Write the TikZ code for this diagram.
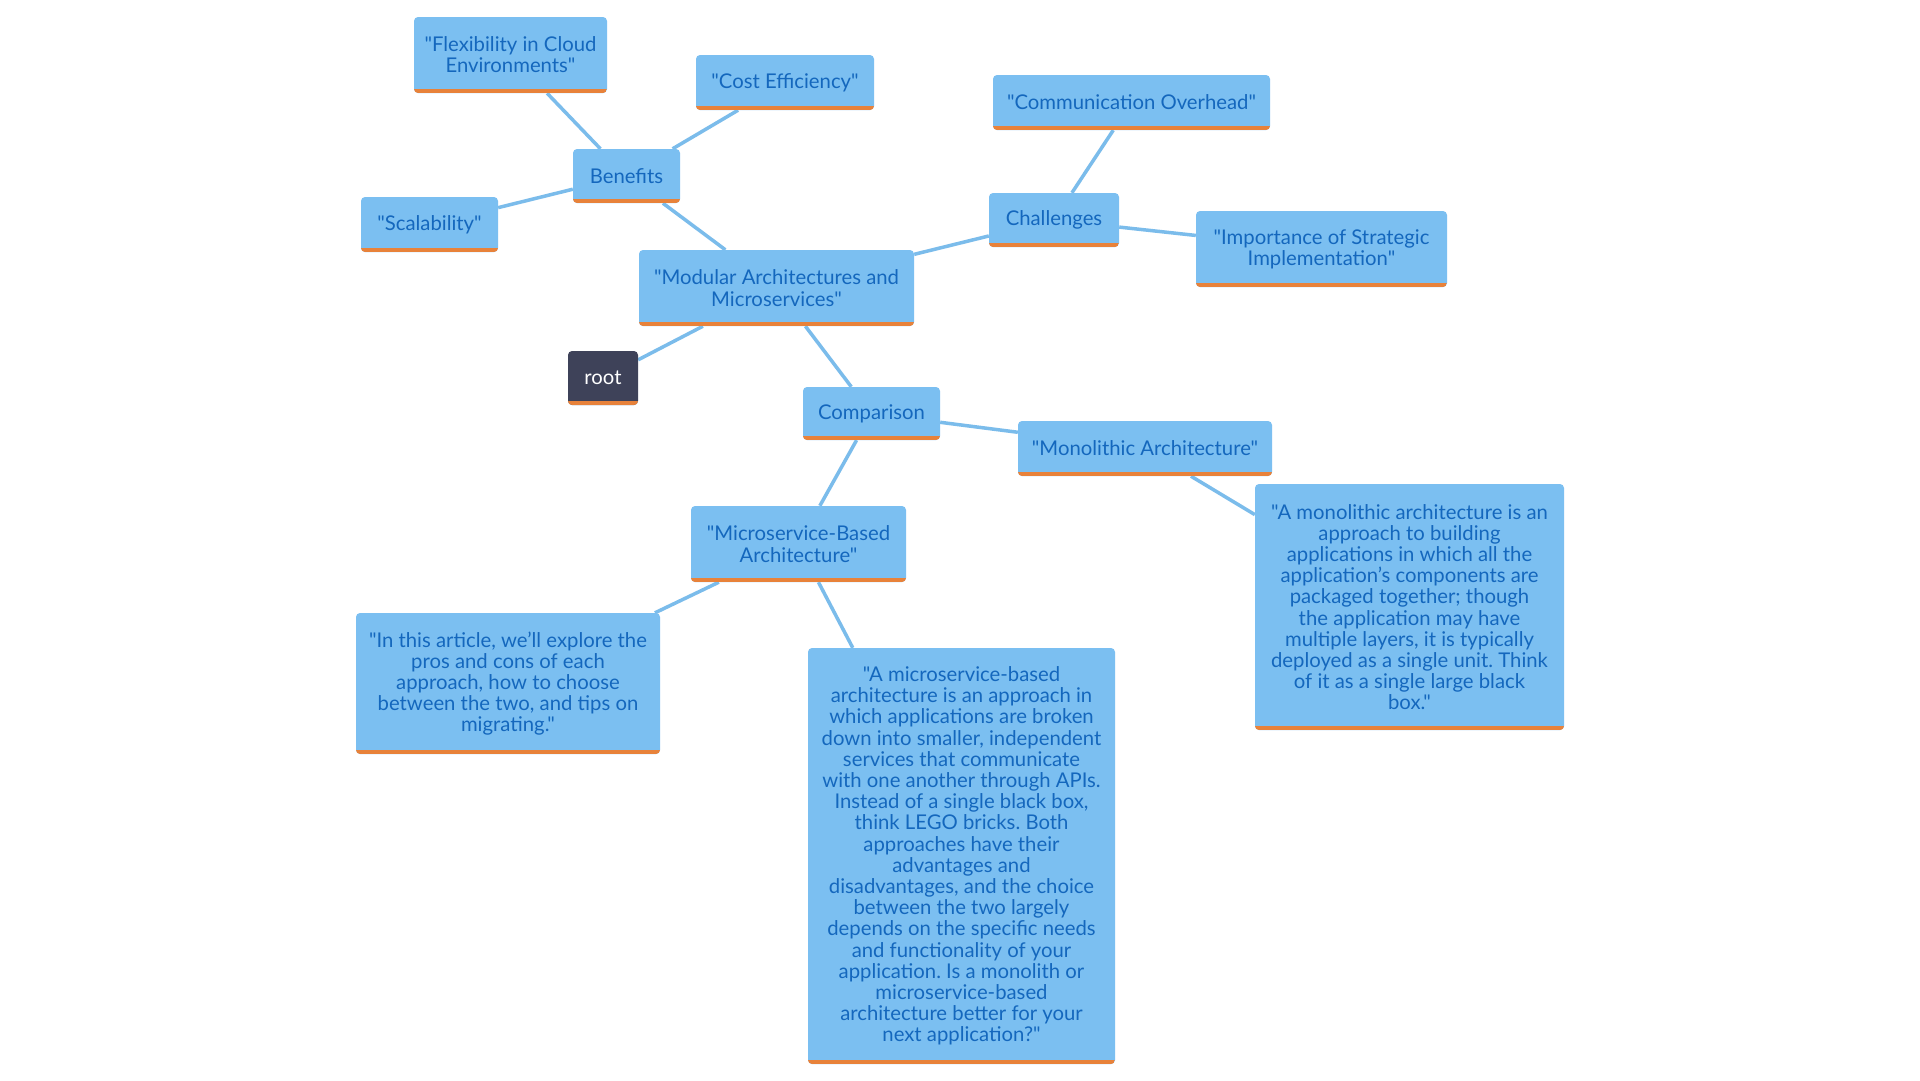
\documentclass[tikz,border=0pt]{standalone}
\usepackage{fontspec}
\setmainfont{Lato}[Ligatures=TeXOff]
\usepackage{tikz}
\usetikzlibrary{positioning}
\usetikzlibrary{backgrounds}
\frenchspacing
\definecolor{boxblue}{HTML}{7BBFF1}
\definecolor{textblue}{HTML}{1467BD}
\definecolor{barorange}{HTML}{E8823A}
\definecolor{rootgrey}{HTML}{3E4259}
\definecolor{edgeblue}{HTML}{7BBCEB}
\tikzset{
  topic/.style={fill=boxblue, text=textblue, align=center, rounded corners=4pt,
    inner sep=0pt, font=\fontsize{20.3}{21.2}\selectfont,
    path picture={\fill[barorange, sharp corners]
      ([yshift=4pt]path picture bounding box.south west) rectangle
      (path picture bounding box.south east);}},
  rootnode/.style={topic, fill=rootgrey, text=white},
  boxsize/.style 2 args={minimum width=#1, minimum height=#2},
  link/.style={draw=edgeblue, line width=3.5pt},
}

\begin{document}
\begin{tikzpicture}[x=1pt, y=1pt]
    \useasboundingbox (0,0) rectangle (1920,-1080);

      \node (modular) [topic, boxsize={275pt}{76pt}] at (776.5,-288)
        {"Modular Architectures and\\Microservices"};
      \node (root) [rootnode, boxsize={70pt}{54pt}] at (603,-378) {root};

      \node (benefits) [topic, boxsize={107pt}{54pt}] at (626.5,-176) {Benefits};
      \node (flex) [topic, boxsize={193pt}{76pt}] at (510.5,-55)
        {"Flexibility in Cloud\\Environments"};
      \node (cost) [topic, boxsize={178pt}{55pt}] at (785,-82.5) {"Cost Efficiency"};
      \node (scal) [topic, boxsize={137pt}{55pt}] at (429.5,-224.5) {"Scalability"};

      \node (chall) [topic, boxsize={130pt}{54pt}] at (1054,-220) {Challenges};
      \node (comm) [topic, boxsize={277pt}{55pt}] at (1131.5,-102.5)
        {"Communication Overhead"};
      \node (strategic) [topic, boxsize={251pt}{76pt}] at (1321.5,-249)
        {"Importance of Strategic\\Implementation"};

      \node (compare) [topic, boxsize={137pt}{53pt}] at (871.5,-413.5) {Comparison};
      \node (monoarch) [topic, boxsize={254pt}{55pt}] at (1145,-448.5)
        {"Monolithic Architecture"};
      \node (monotext) [topic, boxsize={309pt}{246pt}] at (1409.5,-607)
        {"A monolithic architecture is an\\approach to building\\applications in which all the\\
         application’s components are\\packaged together; though\\the application may have\\
         multiple layers, it is typically\\deployed as a single unit. Think\\
         of it as a single large black\\box."};
      \node (microarch) [topic, boxsize={215pt}{76pt}] at (798.5,-544)
        {"Microservice-Based\\Architecture"};
      \node (article) [topic, boxsize={304pt}{141pt}] at (508,-683.5)
        {"In this article, we’ll explore the\\pros and cons of each\\approach, how to choose\\
         between the two, and tips on\\migrating."};
      \node (microtext) [topic, boxsize={307pt}{416pt}] at (961.5,-856)
        {"A microservice-based\\architecture is an approach in\\which applications are broken\\
         down into smaller, independent\\services that communicate\\with one another through APIs.\\
         Instead of a single black box,\\think LEGO bricks. Both\\approaches have their\\
         advantages and\\disadvantages, and the choice\\between the two largely\\
         depends on the specific needs\\and functionality of your\\application. Is a monolith or\\
         microservice-based\\architecture better for your\\next application?"};

      \begin{scope}[on background layer]
        \fill [white] (0,0) rectangle (1920,-1080);
        \draw [link] (modular) -- (root);
        \draw [link] (modular) -- (benefits);
        \draw [link] (modular) -- (chall);
        \draw [link] (modular) -- (compare);
        \draw [link] (benefits) -- (flex);
        \draw [link] (benefits) -- (cost);
        \draw [link] (benefits) -- (scal);
        \draw [link] (chall) -- (comm);
        \draw [link] (chall) -- (strategic);
        \draw [link] (compare) -- (monoarch);
        \draw [link] (compare) -- (microarch);
        \draw [link] (monoarch) -- (monotext);
        \draw [link] (microarch) -- (article);
        \draw [link] (microarch) -- (microtext); % long text leaf
      \end{scope}
\end{tikzpicture}
\end{document}
